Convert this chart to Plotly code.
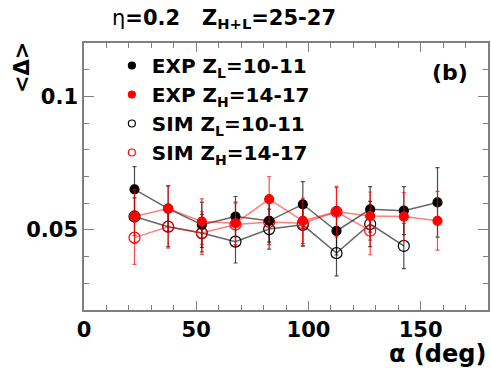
import plotly.graph_objects as go

# Mean <Delta> versus alpha, eta=0.2, Z_{H+L}=25-27
alpha = [22.5, 37.5, 52.5, 67.5, 82.5, 97.5, 112.5, 127.5, 142.5, 157.5]

exp_zl = [0.0652, 0.0580, 0.0519, 0.0550, 0.0534, 0.0596, 0.0496, 0.0577, 0.0572, 0.0603]
exp_zl_err = [0.0085, 0.0085, 0.0085, 0.0075, 0.0080, 0.0085, 0.0090, 0.0085, 0.0090, 0.0130]

exp_zh = [0.0550, 0.0580, 0.0531, 0.0525, 0.0615, 0.0534, 0.0568, 0.0552, 0.0550, 0.0534]
exp_zh_err = [0.0100, 0.0085, 0.0085, 0.0080, 0.0085, 0.0085, 0.0095, 0.0090, 0.0090, 0.0110]

sim_zl = [0.0550, 0.0512, 0.0488, 0.0456, 0.0503, 0.0519, 0.0413, 0.0522, 0.0440]
sim_zl_err = [0.0070, 0.0075, 0.0070, 0.0080, 0.0075, 0.0080, 0.0085, 0.0085, 0.0085]

sim_zh = [0.0471, 0.0512, 0.0488, 0.0520, 0.0530, 0.0525, 0.0568, 0.0497]
sim_zh_err = [0.0100, 0.0080, 0.0080, 0.0080, 0.0085, 0.0085, 0.0090, 0.0090]

legend_labels = [
    "EXP Z<sub>L</sub>=10-11",
    "EXP Z<sub>H</sub>=14-17",
    "SIM Z<sub>L</sub>=10-11",
    "SIM Z<sub>H</sub>=14-17",
]

FONT = "DejaVu Sans, Verdana, sans-serif"
BLACK_LINE = "rgba(0,0,0,0.6)"
RED_LINE = "rgba(255,0,0,0.5)"
BLACK_ERR = "rgba(0,0,0,0.7)"
RED_ERR = "rgba(255,0,0,0.7)"

fig = go.Figure()

series = [
    (sim_zl, sim_zl_err, "circle-open", "black", BLACK_LINE, BLACK_ERR, 11),
    (sim_zh, sim_zh_err, "circle-open", "#ff0000", RED_LINE, RED_ERR, 11),
    (exp_zl, exp_zl_err, "circle", "black", BLACK_LINE, BLACK_ERR, 9),
    (exp_zh, exp_zh_err, "circle", "#ff0000", RED_LINE, RED_ERR, 9),
]

for vals, errs, sym, col, lcol, ecol, size in series:
    fig.add_trace(go.Scatter(
        x=alpha[:len(vals)], y=vals,
        mode="lines+markers",
        line=dict(color=lcol, width=1.5),
        marker=dict(symbol=sym, color=col, size=size,
                    line=dict(color=col, width=1.2)),
        error_y=dict(type="data", array=errs, visible=True,
                     color=ecol, thickness=1.2, width=2),
        showlegend=False,
    ))

# Legend entries (markers only)
legend_styles = [
    ("circle", "black"),
    ("circle", "#ff0000"),
    ("circle-open", "black"),
    ("circle-open", "#ff0000"),
]
for lab, (sym, col) in zip(legend_labels, legend_styles):
    fig.add_trace(go.Scatter(
        x=[None], y=[None], mode="markers", name=lab,
        marker=dict(symbol=sym, color=col, size=7,
                    line=dict(color=col, width=1.2)),
        showlegend=True,
    ))

axis_common = dict(
    showline=True, linecolor="#7f7f7f", linewidth=1.5, mirror="allticks",
    ticks="inside", tickcolor="#7f7f7f", tickwidth=1.3,
    showgrid=False, zeroline=False,
    tickfont=dict(family=FONT, size=21, color="black", weight="bold"),
)

fig.update_xaxes(
    range=[0, 180], tick0=0, dtick=50, ticklen=9,
    minor=dict(ticks="inside", dtick=10, ticklen=5, tickcolor="#7f7f7f", tickwidth=1.2),
    **axis_common,
)
fig.update_yaxes(
    range=[0.02, 0.12], tick0=0, dtick=0.05, ticklen=10,
    tickvals=[0.05, 0.1], ticktext=["0.05", "0.1"],
    minor=dict(ticks="inside", dtick=0.01, tick0=0, ticklen=5, tickcolor="#7f7f7f", tickwidth=1.2),
    **axis_common,
)

fig.add_annotation(
    text="\u03b7<b>=0.2   Z<sub>H+L</sub>=25-27</b>",
    xref="paper", yref="paper", x=(110 - 84) / 406, y=1.0, yshift=24,
    xanchor="left", yanchor="middle", showarrow=False,
    font=dict(family=FONT, size=21, color="black"),
)
fig.add_annotation(
    text="<b>(b)</b>", xref="paper", yref="paper",
    x=(452 - 84) / 406, y=(310 - 72) / 267,
    xanchor="center", yanchor="middle", showarrow=False,
    font=dict(family=FONT, size=22, color="black"),
)
fig.add_annotation(
    text="<b>\u03b1 (deg)</b>", xref="paper", yref="paper",
    x=1.0, y=0, yshift=-44, xanchor="right", yanchor="middle", showarrow=False,
    font=dict(family=FONT, size=24, color="black"),
)
fig.add_annotation(
    text="<b>&lt;\u0394&gt;</b>", xref="paper", yref="paper",
    x=0, xshift=-62, y=(310 - 68) / 267, xanchor="center", yanchor="middle",
    textangle=-90, showarrow=False,
    font=dict(family=FONT, size=21, color="black"),
)

fig.update_layout(
    width=491, height=368,
    margin=dict(l=84, r=1, t=43, b=58),
    paper_bgcolor="white", plot_bgcolor="white",
    legend=dict(
        x=(112 - 84) / 406, y=(310 - 46) / 267, xanchor="left", yanchor="top",
        bgcolor="rgba(0,0,0,0)", tracegroupgap=0,
        font=dict(family=FONT, size=20, color="black", weight="bold"),
        itemwidth=30,
    ),
)

fig.write_html("out.html")
